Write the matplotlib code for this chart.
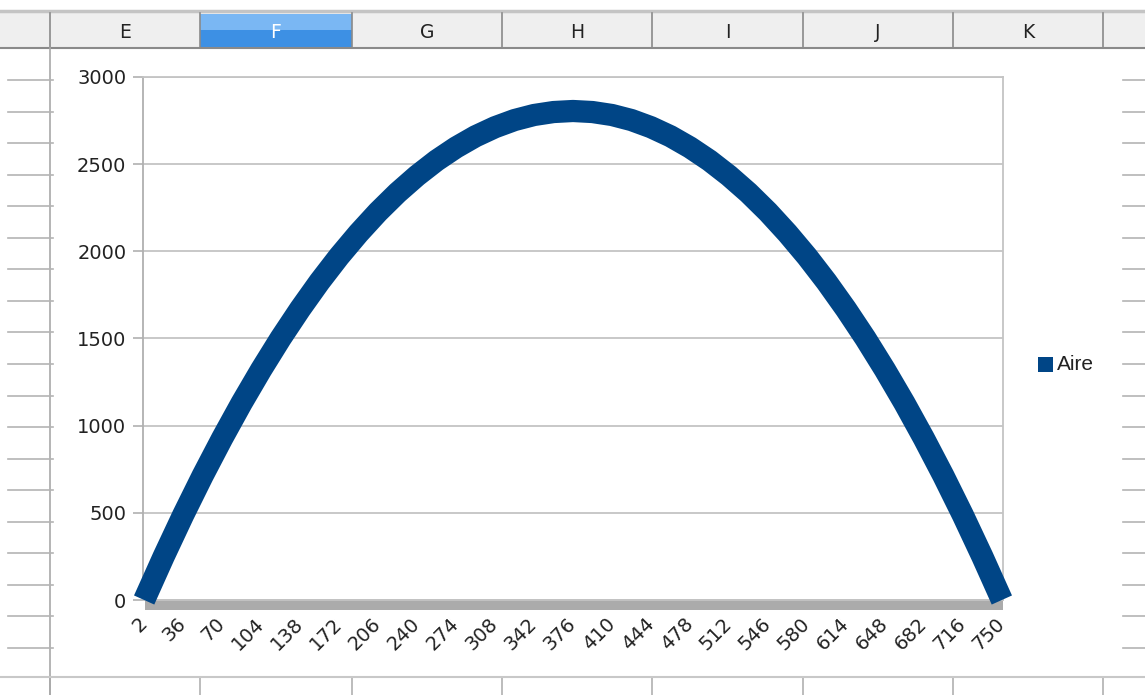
import matplotlib.pyplot as plt
from matplotlib.patches import Rectangle

# categories 2..750 read every 17 units (labels shown every 34) and the values
categories = [2, 19, 36, 53, 70, 87, 104, 121, 138, 155, 172, 189, 206, 223, 240,
              257, 274, 291, 308, 325, 342, 359, 376, 393, 410, 427, 444, 461,
              478, 495, 512, 529, 546, 563, 580, 597, 614, 631, 648, 665, 682,
              699, 716, 733, 750]
aire = [0, 249, 487, 713, 927, 1130, 1321, 1501, 1669, 1826, 1971, 2104, 2226,
        2336, 2434, 2521, 2596, 2660, 2712, 2753, 2782, 2799, 2805, 2799, 2782,
        2753, 2712, 2660, 2596, 2521, 2434, 2336, 2226, 2104, 1971, 1826, 1669,
        1501, 1321, 1130, 927, 713, 487, 249, 0]
tick_labels = categories[::2]

columns = ["E", "F", "G", "H", "I", "J", "K"]
col_edges = [50, 200, 352, 502, 652, 803, 953, 1103]

W, H = 1145, 695
fig = plt.figure(figsize=(W / 100, H / 100), dpi=100)

# spreadsheet background, in pixel coordinates
bg = fig.add_axes([0, 0, 1, 1])
bg.set_xlim(0, W)
bg.set_ylim(H, 0)
bg.axis("off")

bg.add_patch(Rectangle((0, 13), W, 35, facecolor="#efefef", edgecolor="none"))
bg.plot([0, W], [11, 11], color="#c4c4c4", lw=2.5)
bg.plot([0, W], [48, 48], color="#8a8a8a", lw=1.5)
# highlighted column F
bg.add_patch(Rectangle((col_edges[1], 14), col_edges[2] - col_edges[1], 16,
                       facecolor="#7ab7f3", edgecolor="none"))
bg.add_patch(Rectangle((col_edges[1], 30), col_edges[2] - col_edges[1], 18,
                       facecolor="#3d90e4", edgecolor="none"))
for i, name in enumerate(columns):
    cx = (col_edges[i] + col_edges[i + 1]) / 2
    bg.text(cx, 32, name, ha="center", va="center", fontsize=13.5,
            color="white" if name == "F" else "#222222")
for x in col_edges:
    bg.plot([x, x], [13, 48], color="#8a8a8a", lw=1.2)
    bg.plot([x, x], [677, H], color="#b0b0b0", lw=1.2)
bg.plot([50, 50], [48, H], color="#a8a8a8", lw=1.2)
bg.plot([0, W], [677, 677], color="#c8c8c8", lw=1.5)

y = 80
while y < 677:
    bg.plot([8, 53], [y, y], color="#b4b4b4", lw=1.2)
    bg.plot([1123, W], [y, y], color="#b4b4b4", lw=1.2)
    y += 31.55

# white chart area over the cells
bg.add_patch(Rectangle((53, 49), 1067, 627, facecolor="white", edgecolor="none"))
# grey band along the bottom of the plot
bg.add_patch(Rectangle((145, 599), 858, 11, facecolor="#ababab", edgecolor="none"))

# chart
ax = fig.add_axes([143 / W, (H - 600) / H, 860 / W, 523 / H])
ax.patch.set_alpha(0)
ax.plot(categories, aire, color="#004586", lw=16, solid_capstyle="butt",
        solid_joinstyle="round", label="Aire", zorder=3, clip_on=False)
ax.set_xlim(1, 751)
ax.set_ylim(0, 3000)
ax.set_yticks(range(0, 3001, 500))
ax.set_xticks(tick_labels)
ax.set_xticklabels([str(c) for c in tick_labels], rotation=45, ha="right",
                   va="center", rotation_mode="anchor", fontsize=14, color="#222222")
ax.tick_params(axis="x", length=0, pad=15)
ax.tick_params(axis="y", length=7, width=1.2, color="#b0b0b0", labelsize=14,
               labelcolor="#222222", pad=5)
ax.grid(axis="y", color="#c4c4c4", lw=1.3)
ax.set_axisbelow(True)
for side in ["top", "right", "left", "bottom"]:
    ax.spines[side].set_color("#c4c4c4")
    ax.spines[side].set_linewidth(1.3)
ax.spines["left"].set_color("#b0b0b0")

# legend
bg.add_patch(Rectangle((1038, 357), 15, 15, facecolor="#004586", edgecolor="none"))
bg.text(1057, 365, "Aire", ha="left", va="center", fontsize=15,
        family="Liberation Sans", color="#222222")

fig.savefig("out.png", dpi=100)
